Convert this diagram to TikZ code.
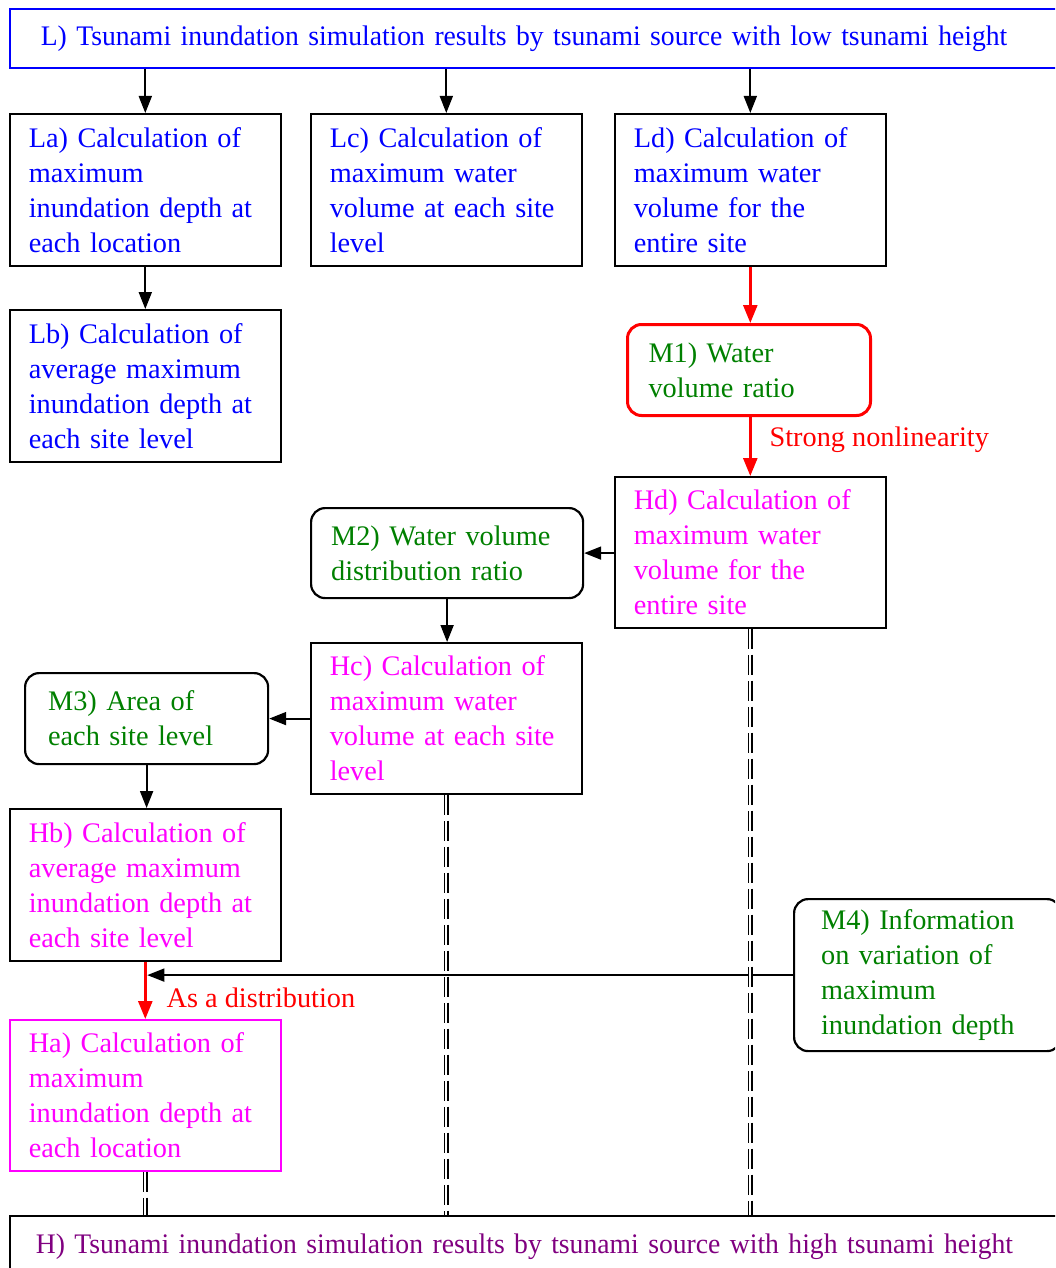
\documentclass[tikz,border=0pt]{standalone}
\usepackage{fontspec}
\setmainfont{Liberation Serif}
\newfontfamily\headfont[FakeStretch=0.977]{Liberation Serif}
\usetikzlibrary{arrows.meta}
\definecolor{dgreen}{RGB}{0,128,0}
\definecolor{hpurple}{RGB}{128,0,128}
\definecolor{hmag}{RGB}{255,0,255}
\definecolor{lblue}{RGB}{0,0,255}
\definecolor{rred}{RGB}{255,0,0}
\begin{document}
\begin{tikzpicture}[x=1pt,y=-1pt,
  txt/.style={font=\fontsize{28.3}{35}\selectfont},
  sq/.style={txt, draw, line width=1.6pt, rectangle, anchor=north west, align=left,
     inner xsep=19pt, inner ysep=0pt, text width=233pt},
  rd/.style={txt, draw, line width=2.2pt, rounded corners=14pt, anchor=north west, align=left,
     inner ysep=0pt, text=dgreen},
  arr/.style={line width=1.8pt, -{Triangle[length=17pt,width=13pt]}},
  rarr/.style={line width=2.6pt, rred, -{Triangle[length=18pt,width=14pt]}},
  dbl/.style={line width=1.7pt, double distance=2pt, dash pattern=on 20pt off 6pt},
  lbl/.style={txt, rred, anchor=west, inner sep=0pt}
]
\useasboundingbox (0,0) rectangle (1055,1268);
\clip (0,0) rectangle (1055,1268);

% headings
\node[font=\headfont\fontsize{28.3}{35}\selectfont, draw=lblue, text=lblue, line width=1.6pt, anchor=north west, align=left,
  inner xsep=31pt, inner ysep=0pt, text width=1010pt, minimum height=59pt] (L) at (9,8)
  {L) Tsunami inundation simulation results by tsunami source with low tsunami height};
\node[font=\headfont\fontsize{28.3}{35}\selectfont, draw, text=hpurple, line width=1.6pt, anchor=north west, align=left,
  inner xsep=26pt, inner ysep=0pt, text width=1010pt, minimum height=62pt] (H) at (9,1215)
  {H) Tsunami inundation simulation results by tsunami source with high tsunami height};

% low-height boxes
\node[sq, text=lblue, minimum height=152pt] (La) at (9,113)
  {La) Calculation of\\maximum\\inundation depth at\\each location};
\node[sq, text=lblue, minimum height=152pt] (Lc) at (310,113)
  {Lc) Calculation of\\maximum water\\volume at each site\\level};
\node[sq, text=lblue, minimum height=152pt] (Ld) at (614,113)
  {Ld) Calculation of\\maximum water\\volume for the\\entire site};
\node[sq, text=lblue, minimum height=152pt] (Lb) at (9,309)
  {Lb) Calculation of\\average maximum\\inundation depth at\\each site level};

% high-height boxes
\node[sq, text=hmag, minimum height=151pt] (Hd) at (614,476)
  {Hd) Calculation of\\maximum water\\volume for the\\entire site};
\node[sq, text=hmag, minimum height=151pt] (Hc) at (310,642)
  {Hc) Calculation of\\maximum water\\volume at each site\\level};
\node[sq, text=hmag, minimum height=152pt] (Hb) at (9,808)
  {Hb) Calculation of\\average maximum\\inundation depth at\\each site level};
\node[sq, draw=hmag, text=hmag, minimum height=151pt] (Ha) at (9,1019)
  {Ha) Calculation of\\maximum\\inundation depth at\\each location};

% method boxes
\node[rd, draw=rred, line width=3pt, inner xsep=21pt, text width=201pt, minimum height=91pt] (M1) at (626,323)
  {M1) Water\\volume ratio};
\node[rd, inner xsep=20pt, text width=232pt, minimum height=90pt] (M2) at (310,507)
  {M2) Water volume\\distribution ratio};
\node[rd, inner xsep=23pt, text width=197pt, minimum height=91pt] (M3) at (24,672)
  {M3) Area of\\each site level};
\node[rd, inner xsep=27pt, text width=213pt, minimum height=152pt] (M4) at (793,898)
  {M4) Information\\on variation of\\maximum\\inundation depth};

% connectors
\draw[arr] (La.north |- L.south) -- (La.north);
\draw[arr] (Lc.north |- L.south) -- (Lc.north);
\draw[arr] (Ld.north |- L.south) -- (Ld.north);
\draw[arr] (La.south) -- (Lb.north);
\draw[rarr] (Ld.south) -- (Ld.south |- M1.north);
\draw[rarr] (M1.south -| Hd.north) -- (Hd.north)
  node[lbl, pos=0.39, xshift=18pt] {Strong nonlinearity};
\draw[arr] (Hd.west |- M2.east) -- (M2.east);
\draw[arr] (M2.south) -- (M2.south |- Hc.north);
\draw[arr] (Hc.west |- M3.east) -- (M3.east);
\draw[arr] (M3.south) -- (M3.south |- Hb.north);
\draw[rarr] (Hb.south) -- (Ha.north)
  node[lbl, pos=0.63, xshift=20pt] {As a distribution};
\coordinate (hit) at (Hb.south |- M4.west);
\draw[arr] (M4.west) -- ([xshift=2pt]hit);

% double dashed links to H
\draw[dbl] (Ha.south) -- (Ha.south |- H.north);
\draw[dbl] (Hc.south) -- (Hc.south |- H.north);
\draw[dbl] (Hd.south) -- (Hd.south |- H.north);
\end{tikzpicture}
\end{document}
